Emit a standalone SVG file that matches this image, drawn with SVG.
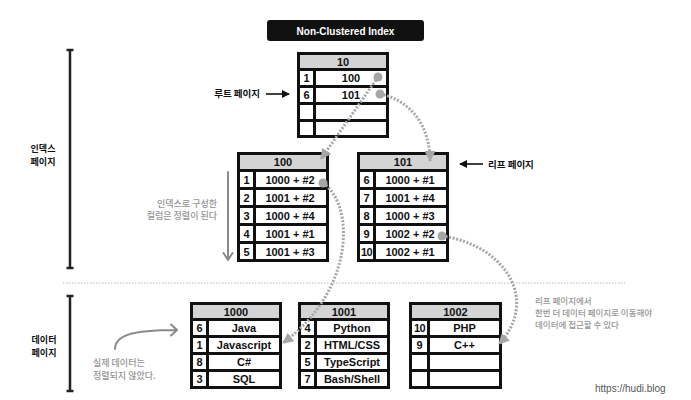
<svg xmlns="http://www.w3.org/2000/svg" width="691" height="400" viewBox="0 0 691 400">
<style>
.outer{fill:#111}
.hdr{fill:#d4d4d4}
.cell{fill:#fff}
.t{font-family:"Liberation Sans",Arial,sans-serif;font-weight:bold;font-size:11px;fill:#111;text-anchor:middle}
.ko{font-family:"Noto Sans CJK KR","Noto Sans",sans-serif;font-weight:bold;font-size:9.5px;fill:#111}
.side{font-family:"Noto Sans CJK KR","Noto Sans",sans-serif;font-weight:bold;font-size:9px;fill:#111;text-anchor:middle}
.note{font-family:"Noto Sans CJK KR","Noto Sans",sans-serif;font-weight:500;font-size:8.5px;fill:#949494}
.dot{fill:#a6a6a6}
.conn{fill:none;stroke:#a6a6a6;stroke-width:3;stroke-dasharray:2 1.6}
.bar{stroke:#222;stroke-width:2.5;fill:none}
.garrow{fill:none;stroke:#8a8a8a;stroke-width:2;stroke-linecap:round;stroke-linejoin:round}
</style>
<defs>
<marker id="tri" markerUnits="userSpaceOnUse" markerWidth="11" markerHeight="11" refX="10" refY="5.5" orient="auto">
<path d="M0,0 L11,5.5 L0,11 z" fill="#a6a6a6"/>
</marker>
<marker id="blk" markerUnits="userSpaceOnUse" markerWidth="8" markerHeight="8" refX="7" refY="4" orient="auto">
<path d="M0,0 L8,4 L0,8 z" fill="#111"/>
</marker>
</defs>
<rect width="691" height="400" fill="#fff"/>

<!-- title -->
<g id="title">
<rect x="267" y="20" width="157" height="21" rx="3" fill="#111"/>
<text x="345.5" y="34.5" style="font-family:'Liberation Sans',Arial,sans-serif;font-weight:bold;font-size:10px;fill:#fff;text-anchor:middle">Non-Clustered Index</text>
</g>

<!-- side bars -->
<g id="side-index">
<path class="bar" d="M70,50 V268 M66.5,50 H73.5 M66.5,268 H73.5"/>
<text class="side" x="43" y="151.5">인덱스</text>
<text class="side" x="43" y="164.5">페이지</text>
</g>
<g id="side-data">
<path class="bar" d="M70,296 V391 M66.5,296 H73.5 M66.5,391 H73.5"/>
<text class="side" x="44" y="342.5">데이터</text>
<text class="side" x="44" y="355.5">페이지</text>
</g>
<line x1="63" y1="283" x2="625" y2="283" stroke="#cfcfcf" stroke-width="1.5" stroke-dasharray="1.5 1.5"/>

<!-- root table -->
<g id="page-10">
<rect class="outer" x="297" y="52" width="92" height="86"/>
<rect class="hdr" x="300" y="55" width="86" height="13"/>
<text class="t" x="343" y="65.5">10</text>
<rect class="cell" x="300" y="71" width="13" height="14"/><rect class="cell" x="316" y="71" width="70" height="14"/>
<rect class="cell" x="300" y="88" width="13" height="14"/><rect class="cell" x="316" y="88" width="70" height="14"/>
<rect class="cell" x="300" y="105" width="13" height="14"/><rect class="cell" x="316" y="105" width="70" height="14"/>
<rect class="cell" x="300" y="122" width="13" height="13"/><rect class="cell" x="316" y="122" width="70" height="13"/>
<text class="t" x="306.5" y="82">1</text><text class="t" x="351" y="82">100</text>
<text class="t" x="306.5" y="99">6</text><text class="t" x="351" y="99">101</text>
</g>
<g id="root-label">
<text class="ko" x="260" y="97" text-anchor="end">루트 페이지</text>
<line x1="266" y1="94" x2="289" y2="94" stroke="#111" stroke-width="1.6" marker-end="url(#blk)"/>
</g>

<!-- table 100 -->
<g id="page-100">
<rect class="outer" x="237" y="152" width="92" height="110"/>
<rect class="hdr" x="240" y="155" width="86" height="14"/>
<text class="t" x="283" y="166">100</text>
<rect class="cell" x="240" y="172" width="13" height="15"/><rect class="cell" x="256" y="172" width="70" height="15"/>
<rect class="cell" x="240" y="190" width="13" height="15"/><rect class="cell" x="256" y="190" width="70" height="15"/>
<rect class="cell" x="240" y="208" width="13" height="15"/><rect class="cell" x="256" y="208" width="70" height="15"/>
<rect class="cell" x="240" y="226" width="13" height="15"/><rect class="cell" x="256" y="226" width="70" height="15"/>
<rect class="cell" x="240" y="244" width="13" height="15"/><rect class="cell" x="256" y="244" width="70" height="15"/>
<text class="t" x="246.5" y="183.5">1</text><text class="t" x="290" y="183.5">1000 + #2</text>
<text class="t" x="246.5" y="201.5">2</text><text class="t" x="290" y="201.5">1001 + #2</text>
<text class="t" x="246.5" y="219.5">3</text><text class="t" x="290" y="219.5">1000 + #4</text>
<text class="t" x="246.5" y="237.5">4</text><text class="t" x="290" y="237.5">1001 + #1</text>
<text class="t" x="246.5" y="255.5">5</text><text class="t" x="290" y="255.5">1001 + #3</text>
</g>

<!-- table 101 -->
<g id="page-101">
<rect class="outer" x="357" y="152" width="92" height="110"/>
<rect class="hdr" x="360" y="155" width="86" height="14"/>
<text class="t" x="403" y="166">101</text>
<rect class="cell" x="360" y="172" width="13" height="15"/><rect class="cell" x="376" y="172" width="70" height="15"/>
<rect class="cell" x="360" y="190" width="13" height="15"/><rect class="cell" x="376" y="190" width="70" height="15"/>
<rect class="cell" x="360" y="208" width="13" height="15"/><rect class="cell" x="376" y="208" width="70" height="15"/>
<rect class="cell" x="360" y="226" width="13" height="15"/><rect class="cell" x="376" y="226" width="70" height="15"/>
<rect class="cell" x="360" y="244" width="13" height="15"/><rect class="cell" x="376" y="244" width="70" height="15"/>
<text class="t" x="366.5" y="183.5">6</text><text class="t" x="410" y="183.5">1000 + #1</text>
<text class="t" x="366.5" y="201.5">7</text><text class="t" x="410" y="201.5">1001 + #4</text>
<text class="t" x="366.5" y="219.5">8</text><text class="t" x="410" y="219.5">1000 + #3</text>
<text class="t" x="366.5" y="237.5">9</text><text class="t" x="410" y="237.5">1002 + #2</text>
<text class="t" x="366.5" y="255.5" style="letter-spacing:-0.5px">10</text><text class="t" x="410" y="255.5">1002 + #1</text>
</g>
<g id="leaf-label">
<line x1="483" y1="164" x2="460" y2="164" stroke="#111" stroke-width="1.6" marker-end="url(#blk)"/>
<text class="ko" x="488" y="168">리프 페이지</text>
</g>

<!-- sort note -->
<g id="sort-note">
<path class="garrow" d="M228,172 V260 M223.5,253 L228,260 L232.5,253"/>
<text class="note" x="217" y="207" text-anchor="end" style="font-size:9px">인덱스로 구성한</text>
<text class="note" x="217" y="218.5" text-anchor="end" style="font-size:9px">컬럼은 정렬이 된다</text>
</g>

<!-- data table 1000 -->
<g id="page-1000">
<rect class="outer" x="190" y="302" width="92" height="87"/>
<rect class="hdr" x="193" y="305" width="86" height="13"/>
<text class="t" x="236" y="315.5">1000</text>
<rect class="cell" x="193" y="321" width="13" height="14"/><rect class="cell" x="209" y="321" width="70" height="14"/>
<rect class="cell" x="193" y="338" width="13" height="14"/><rect class="cell" x="209" y="338" width="70" height="14"/>
<rect class="cell" x="193" y="355" width="13" height="14"/><rect class="cell" x="209" y="355" width="70" height="14"/>
<rect class="cell" x="193" y="372" width="13" height="14"/><rect class="cell" x="209" y="372" width="70" height="14"/>
<text class="t" x="199.5" y="332">6</text><text class="t" x="244" y="332">Java</text>
<text class="t" x="199.5" y="349">1</text><text class="t" x="244" y="349">Javascript</text>
<text class="t" x="199.5" y="366">8</text><text class="t" x="244" y="366">C#</text>
<text class="t" x="199.5" y="383">3</text><text class="t" x="244" y="383">SQL</text>
</g>

<!-- data table 1001 -->
<g id="page-1001">
<rect class="outer" x="298" y="302" width="92" height="87"/>
<rect class="hdr" x="301" y="305" width="86" height="13"/>
<text class="t" x="344" y="315.5">1001</text>
<rect class="cell" x="301" y="321" width="13" height="14"/><rect class="cell" x="317" y="321" width="70" height="14"/>
<rect class="cell" x="301" y="338" width="13" height="14"/><rect class="cell" x="317" y="338" width="70" height="14"/>
<rect class="cell" x="301" y="355" width="13" height="14"/><rect class="cell" x="317" y="355" width="70" height="14"/>
<rect class="cell" x="301" y="372" width="13" height="14"/><rect class="cell" x="317" y="372" width="70" height="14"/>
<text class="t" x="307.5" y="332">4</text><text class="t" x="352" y="332">Python</text>
<text class="t" x="307.5" y="349">2</text><text class="t" x="352" y="349">HTML/CSS</text>
<text class="t" x="307.5" y="366">5</text><text class="t" x="352" y="366">TypeScript</text>
<text class="t" x="307.5" y="383">7</text><text class="t" x="352" y="383">Bash/Shell</text>
</g>

<!-- data table 1002 -->
<g id="page-1002">
<rect class="outer" x="409" y="302" width="93" height="87"/>
<rect class="hdr" x="412" y="305" width="87" height="13"/>
<text class="t" x="455.5" y="315.5">1002</text>
<rect class="cell" x="412" y="321" width="15" height="14"/><rect class="cell" x="430" y="321" width="69" height="14"/>
<rect class="cell" x="412" y="338" width="15" height="14"/><rect class="cell" x="430" y="338" width="69" height="14"/>
<rect class="cell" x="412" y="355" width="15" height="14"/><rect class="cell" x="430" y="355" width="69" height="14"/>
<rect class="cell" x="412" y="372" width="15" height="14"/><rect class="cell" x="430" y="372" width="69" height="14"/>
<text class="t" x="419.5" y="332" style="letter-spacing:-0.5px">10</text><text class="t" x="464.5" y="332">PHP</text>
<text class="t" x="419.5" y="349">9</text><text class="t" x="464.5" y="349">C++</text>
</g>

<!-- unsorted note -->
<g id="unsorted-note">
<path class="garrow" d="M115,349 C115,336 130,330 176,330 M171,324.5 L177,330 L171,335.5"/>
<text class="note" x="93" y="366" style="font-size:9px">실제 데이터는</text>
<text class="note" x="93" y="379" style="font-size:9px">정렬되지 않았다.</text>
</g>

<!-- leaf to data note -->
<g id="leaf-note">
<text class="note" x="535" y="304">리프 페이지에서</text>
<text class="note" x="535" y="316">한번 더 데이터 페이지로 이동해야</text>
<text class="note" x="535" y="328">데이터에 접근할 수 있다</text>
</g>

<!-- connectors -->
<g id="connectors">
<path class="conn" d="M378,77 L321,159" marker-end="url(#tri)"/>
<path class="conn" d="M380,94 C410,100 430,125 430,161" marker-end="url(#tri)"/>
<path class="conn" d="M323,183 C355,205 355,290 283,343" marker-end="url(#tri)"/>
<path class="conn" d="M442,236 C505,245 540,300 499,344" marker-end="url(#tri)"/>
<circle class="dot" cx="378" cy="77" r="4.5"/>
<circle class="dot" cx="380" cy="94" r="4.5"/>
<circle class="dot" cx="323" cy="183" r="4.5"/>
<circle class="dot" cx="442" cy="236" r="4.5"/>
</g>

<text x="595" y="392" style="font-family:'Liberation Sans',Arial,sans-serif;font-size:10px;fill:#555">https://hudi.blog</text>
</svg>
